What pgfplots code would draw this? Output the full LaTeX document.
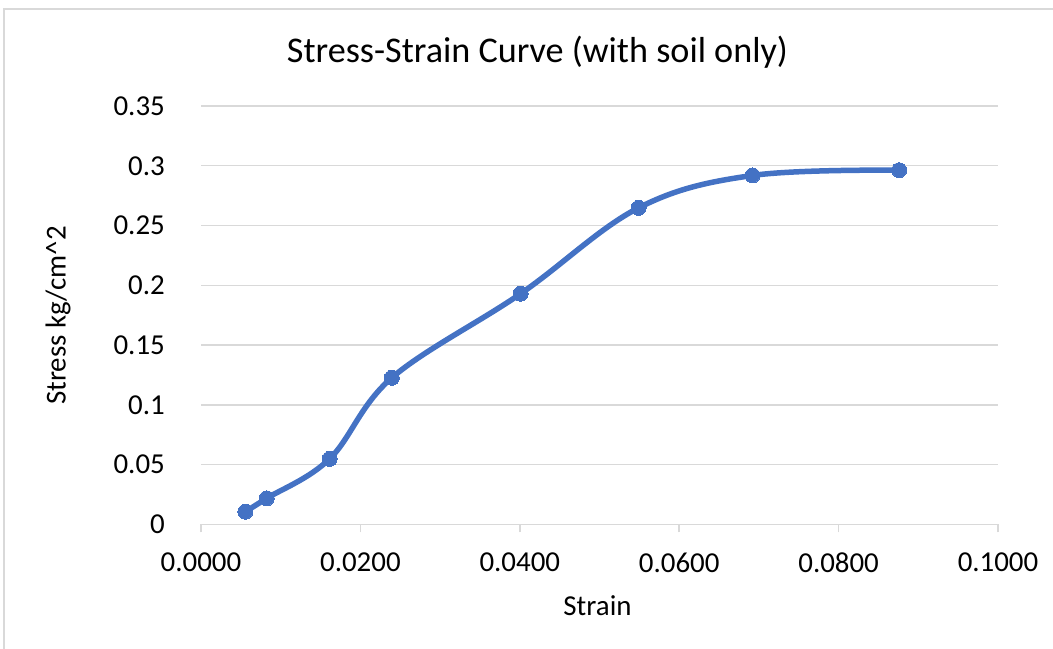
\documentclass[border=0pt]{standalone}
\usepackage{fontspec}
\setmainfont{Carlito}
\usepackage{pgfplots}
\pgfplotsset{compat=1.18}

\definecolor{seriesblue}{HTML}{4472C4}
\definecolor{gridgray}{HTML}{D9D9D9}

\begin{document}
\begin{tikzpicture}[x=1bp,y=1bp]
  % canvas and chart frame
  \useasboundingbox (0,0) rectangle (1053,649);
  \draw[gridgray, line width=1.5bp] (4,0) -- (4,640) -- (1053,640);

  % chart title
  \node[font=\fontsize{36.3}{42}\selectfont] at (537.5,597) {Stress-Strain Curve (with soil only)};

  \begin{axis}[
    at={(201bp,124.5bp)}, anchor=south west,
    scale only axis,
    width=797bp, height=418.5bp,
    xmin=0, xmax=0.1, ymin=0, ymax=0.35,
    xtick={0,0.02,0.04,0.06,0.08,0.1},
    ytick={0,0.05,0.1,0.15,0.2,0.25,0.3,0.35},
    scaled x ticks=false, scaled y ticks=false,
    xticklabel style={/pgf/number format/fixed, /pgf/number format/fixed zerofill,
      /pgf/number format/precision=4},
    yticklabel style={/pgf/number format/fixed, /pgf/number format/precision=2},
    /pgf/number format/assume math mode=true,
    ticklabel style={font=\fontsize{29}{34}\selectfont},
    xticklabel style={anchor=north, inner sep=0pt, yshift=-20bp},
    yticklabel style={anchor=east, inner sep=0pt, xshift=-28bp},
    axis x line*=bottom, axis y line*=left,
    x axis line style={draw=gridgray, line width=1.5bp},
    y axis line style={draw=none},
    tick align=outside,
    major tick length=8bp,
    xtick style={draw=gridgray, line width=1.5bp},
    ytick style={draw=none},
    ymajorgrids,
    grid style={draw=gridgray, line width=1.3bp},
    xlabel={Strain},
    ylabel={Stress kg/cm\^{}2},
    label style={font=\fontsize{29}{34}\selectfont},
    xlabel style={at={(axis description cs:0.4975,0)}, anchor=center, yshift=-124.5bp+43bp},
    ylabel style={at={(axis description cs:-0.1794,0.4994)}, anchor=center, rotate=0},
    clip=false,
  ]
    \addplot[seriesblue, line width=5.5bp, smooth, tension=0.6,
             mark=*, mark size=7.5bp, mark options={fill=seriesblue, draw=seriesblue, line width=0pt}]
      coordinates {
        (0.00557,0.0107)
        (0.00825,0.0219)
        (0.01614,0.0549)
        (0.02394,0.1227)
        (0.0401,0.1930)
        (0.0549,0.2648)
        (0.0692,0.2919)
        (0.0876,0.2963)
      };
  \end{axis}
\end{tikzpicture}
\end{document}
